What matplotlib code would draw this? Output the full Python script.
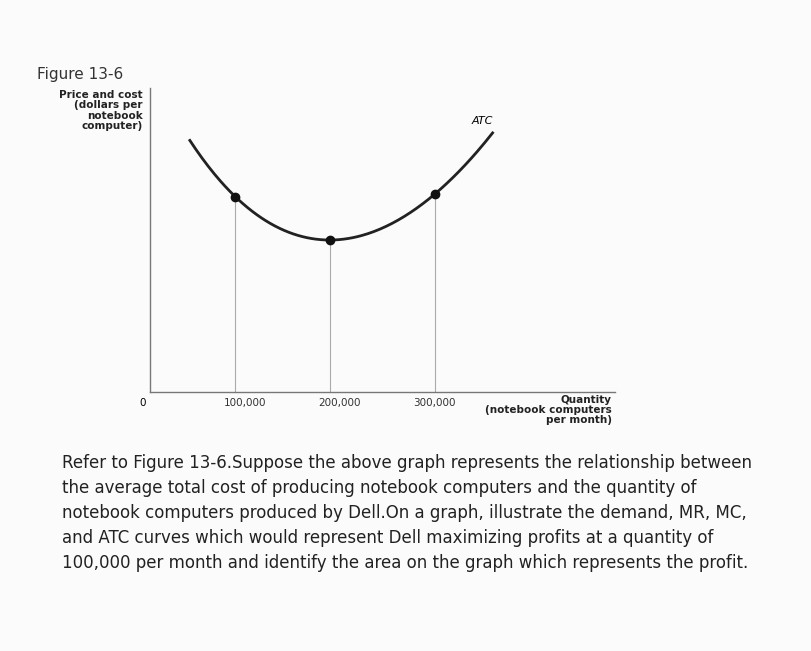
import matplotlib
matplotlib.use("Agg")
import matplotlib.pyplot as plt
import numpy as np

# ATC curve (quantity in thousands, cost in arbitrary units)
curve_q = [42, 70, 100, 150, 200, 250, 300, 340, 361]
curve_c = [252, 215, 186, 160, 152, 165, 199, 235, 259]
mark_q = [90, 190, 300]
tick_vals = [100, 200, 300]
tick_labels = ["100,000", "200,000", "300,000"]

W, H = 812, 651
fig = plt.figure(figsize=(W/100, H/100), dpi=100)
fig.patch.set_facecolor("#fbfbfb")
x0, x1, y0, y1 = 150, 615, 392, 88
ax = fig.add_axes([x0/W, 1-y0/H, (x1-x0)/W, (y0-y1)/H])
ax.set_facecolor("none")
ax.set_xlim(0, 490)
ax.set_ylim(0, 304)
for s in ["top", "right"]:
    ax.spines[s].set_visible(False)
for s in ["left", "bottom"]:
    ax.spines[s].set_color("#777777")
    ax.spines[s].set_linewidth(1)
ax.set_yticks([])
ax.set_xticks(tick_vals)
ax.set_xticklabels(tick_labels, fontsize=7.5, color="#333333")
ax.tick_params(axis="x", length=0, pad=4)

qs = np.linspace(curve_q[0], curve_q[-1], 200)
coef = np.polyfit(curve_q, curve_c, 4)
ax.plot(qs, np.polyval(coef, qs), color="#222222", lw=2)
ax.vlines(mark_q, 0, np.polyval(coef, mark_q), color="#aaaaaa", lw=0.8)
ax.plot(mark_q, np.polyval(coef, mark_q), "o", color="#111111", ms=6)
ax.text(350, 268, "ATC", style="italic", fontsize=8, ha="center")

fig.text(143/W, 1-403/H, "0", fontsize=7.5, ha="center", va="center")
fig.text(612/W, 1-395/H, "Quantity\n(notebook computers\nper month)", fontsize=7.5,
         fontweight="bold", ha="right", va="top", linespacing=1.0, color="#222222")
fig.text(37/W, 1-75/H, "Figure 13-6", fontsize=11, ha="left", va="center", color="#333333")
fig.text(143/W, 1-90/H, "Price and cost\n(dollars per\nnotebook\ncomputer)", fontsize=7.5,
         fontweight="bold", ha="right", va="top", linespacing=1.05, color="#222222")

para = ["Refer to Figure 13-6.Suppose the above graph represents the relationship between",
        "the average total cost of producing notebook computers and the quantity of",
        "notebook computers produced by Dell.On a graph, illustrate the demand, MR, MC,",
        "and ATC curves which would represent Dell maximizing profits at a quantity of",
        "100,000 per month and identify the area on the graph which represents the profit."]
for i, line in enumerate(para):
    fig.text(62/W, 1-(463+25*i)/H, line, fontsize=12, ha="left", va="center",
             color="#222222")

fig.savefig("out.png", dpi=100, facecolor=fig.get_facecolor())
